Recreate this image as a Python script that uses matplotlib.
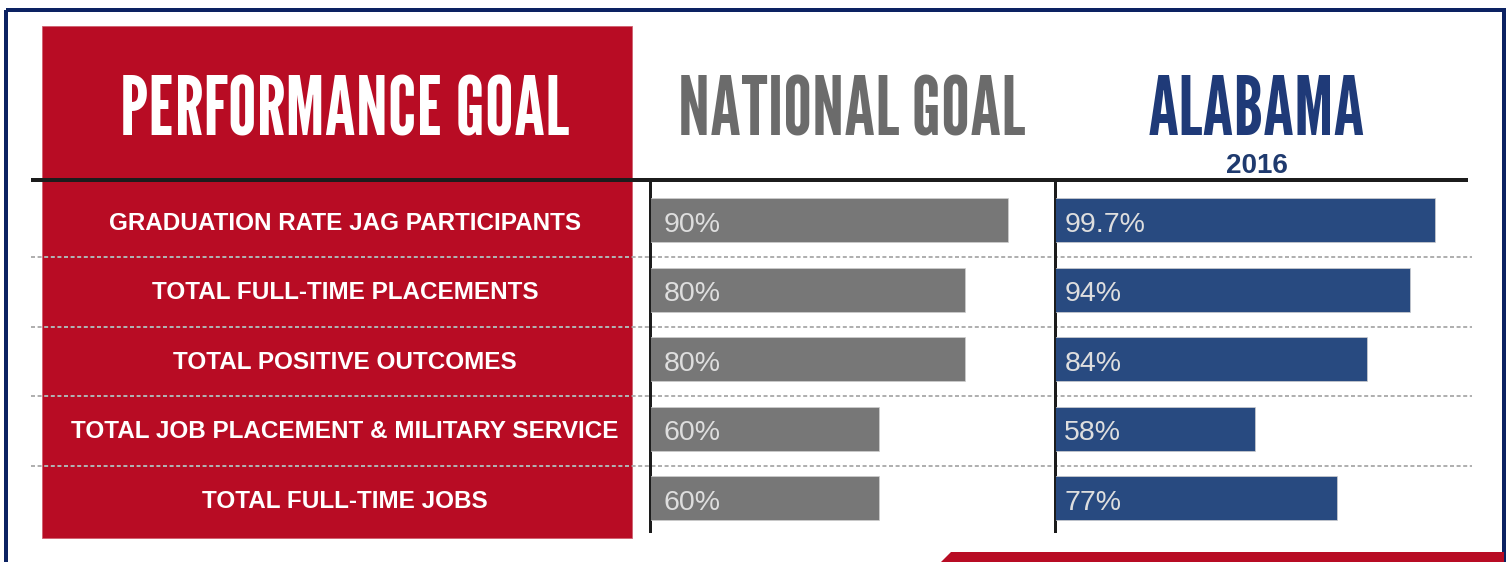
import matplotlib
matplotlib.use("Agg")
import matplotlib.pyplot as plt
from matplotlib import font_manager
from matplotlib.patches import Rectangle, Polygon
from matplotlib.transforms import blended_transform_factory

# Data
categories = [
    "GRADUATION RATE JAG PARTICIPANTS",
    "TOTAL FULL-TIME PLACEMENTS",
    "TOTAL POSITIVE OUTCOMES",
    "TOTAL JOB PLACEMENT & MILITARY SERVICE",
    "TOTAL FULL-TIME JOBS",
]
national_goal = [90, 80, 80, 60, 60]
alabama_2016 = [99.7, 94, 84, 58, 77]
national_labels = ["90%", "80%", "80%", "60%", "60%"]
alabama_labels = ["99.7%", "94%", "84%", "58%", "77%"]

# Colours
RED = "#b80c24"
NAVY = "#0c2262"
GRAY_BAR = "#777777"
BLUE_BAR = "#284a80"
GRAY_HEAD = "#6b6b6b"
BLUE_HEAD = "#1f3a78"

W, H = 1512, 562
PT = 0.72  # points per pixel at dpi 100

# condensed headline font if present, else a plain sans at a smaller size
names = {f.name for f in font_manager.fontManager.ttflist}
if "League Gothic" in names:
    head_font, head_size = "League Gothic", 58
else:
    head_font, head_size = "Liberation Sans", 33
body_font = "Liberation Sans"

fig = plt.figure(figsize=(W / 100, H / 100), dpi=100)
fig.patch.set_facecolor("white")

# background canvas in pixel units for the decoration
bg = fig.add_axes([0, 0, 1, 1])
bg.set_xlim(0, W)
bg.set_ylim(H, 0)
bg.axis("off")

# outer frame and red bottom tab
bg.add_patch(Rectangle((6, 10), 1498, 600, fill=False, edgecolor=NAVY, lw=4 * PT, zorder=1))
bg.add_patch(Polygon([(940, 563), (951, 552), (1504, 552), (1504, 563)], closed=True,
                     facecolor=RED, edgecolor="none", zorder=1))

# red label panel
bg.add_patch(Rectangle((42, 26), 590, 512, facecolor=RED, edgecolor="#d06070", lw=0.6, zorder=2))

# row geometry
row_top, row_h = 185.5, 69.5
n = len(categories)

for k in range(1, n):
    y = row_top + k * row_h + 2
    bg.plot([31, 1472], [y, y], color="#b0b0b0", lw=2 * PT, ls=(0, (2.0, 1.3)), zorder=3)

bg.plot([31, 1468], [180, 180], color="#1c1c1c", lw=4 * PT, solid_capstyle="butt", zorder=4)
bg.plot([650, 650], [180, 531], color="#1c1c1c", lw=3 * PT, zorder=6)
bg.plot([1055, 1055], [180, 531], color="#1c1c1c", lw=3 * PT, zorder=6)

# headers
bg.text(345, 136, "PERFORMANCE GOAL", color="white", fontsize=head_size, family=head_font,
        ha="center", va="baseline", zorder=5)
bg.text(852, 136, "NATIONAL GOAL", color=GRAY_HEAD, fontsize=head_size, family=head_font,
        ha="center", va="baseline", zorder=5)
bg.text(1256, 135, "ALABAMA", color=BLUE_HEAD, fontsize=head_size, family=head_font,
        ha="center", va="baseline", zorder=5)
bg.text(1257, 173, "2016", color="#1f3a6e", fontsize=20, family=body_font,
        fontweight="bold", ha="center", va="baseline", zorder=5)

# category labels
for i, name in enumerate(categories):
    yc = row_top + (i + 0.5) * row_h
    bg.text(345, yc + 9.5, name, color="white", fontsize=17.5, family=body_font,
            fontweight="bold", ha="center", va="baseline", zorder=5)


def bar_axes(x0, x1, scale_px, zero_px, values, labels, color, pad):
    ax = fig.add_axes([x0 / W, 1 - (row_top + n * row_h) / H, (x1 - x0) / W, n * row_h / H])
    ax.set_facecolor("none")
    ax.set_xlim((x0 - zero_px) / scale_px, (x1 - zero_px) / scale_px)
    ax.set_ylim(n - 0.5, -0.5)
    ax.axis("off")
    ax.barh(range(n), values, height=0.63, color=color, edgecolor="#cfcfcf", lw=0.5, zorder=2)
    tr = blended_transform_factory(ax.transAxes, ax.transData)
    for i, lab in enumerate(labels):
        ax.text(pad, i + 0.165, lab, transform=tr, color="#dedede", fontsize=20.5,
                family=body_font, ha="left", va="baseline", zorder=3)
    return ax


bar_axes(651, 1050, 4.3, 621, national_goal, national_labels, GRAY_BAR, 0.032)
bar_axes(1056, 1470, 4.3, 1006, alabama_2016, alabama_labels, BLUE_BAR, 0.02)

fig.savefig("out.png", dpi=100)
